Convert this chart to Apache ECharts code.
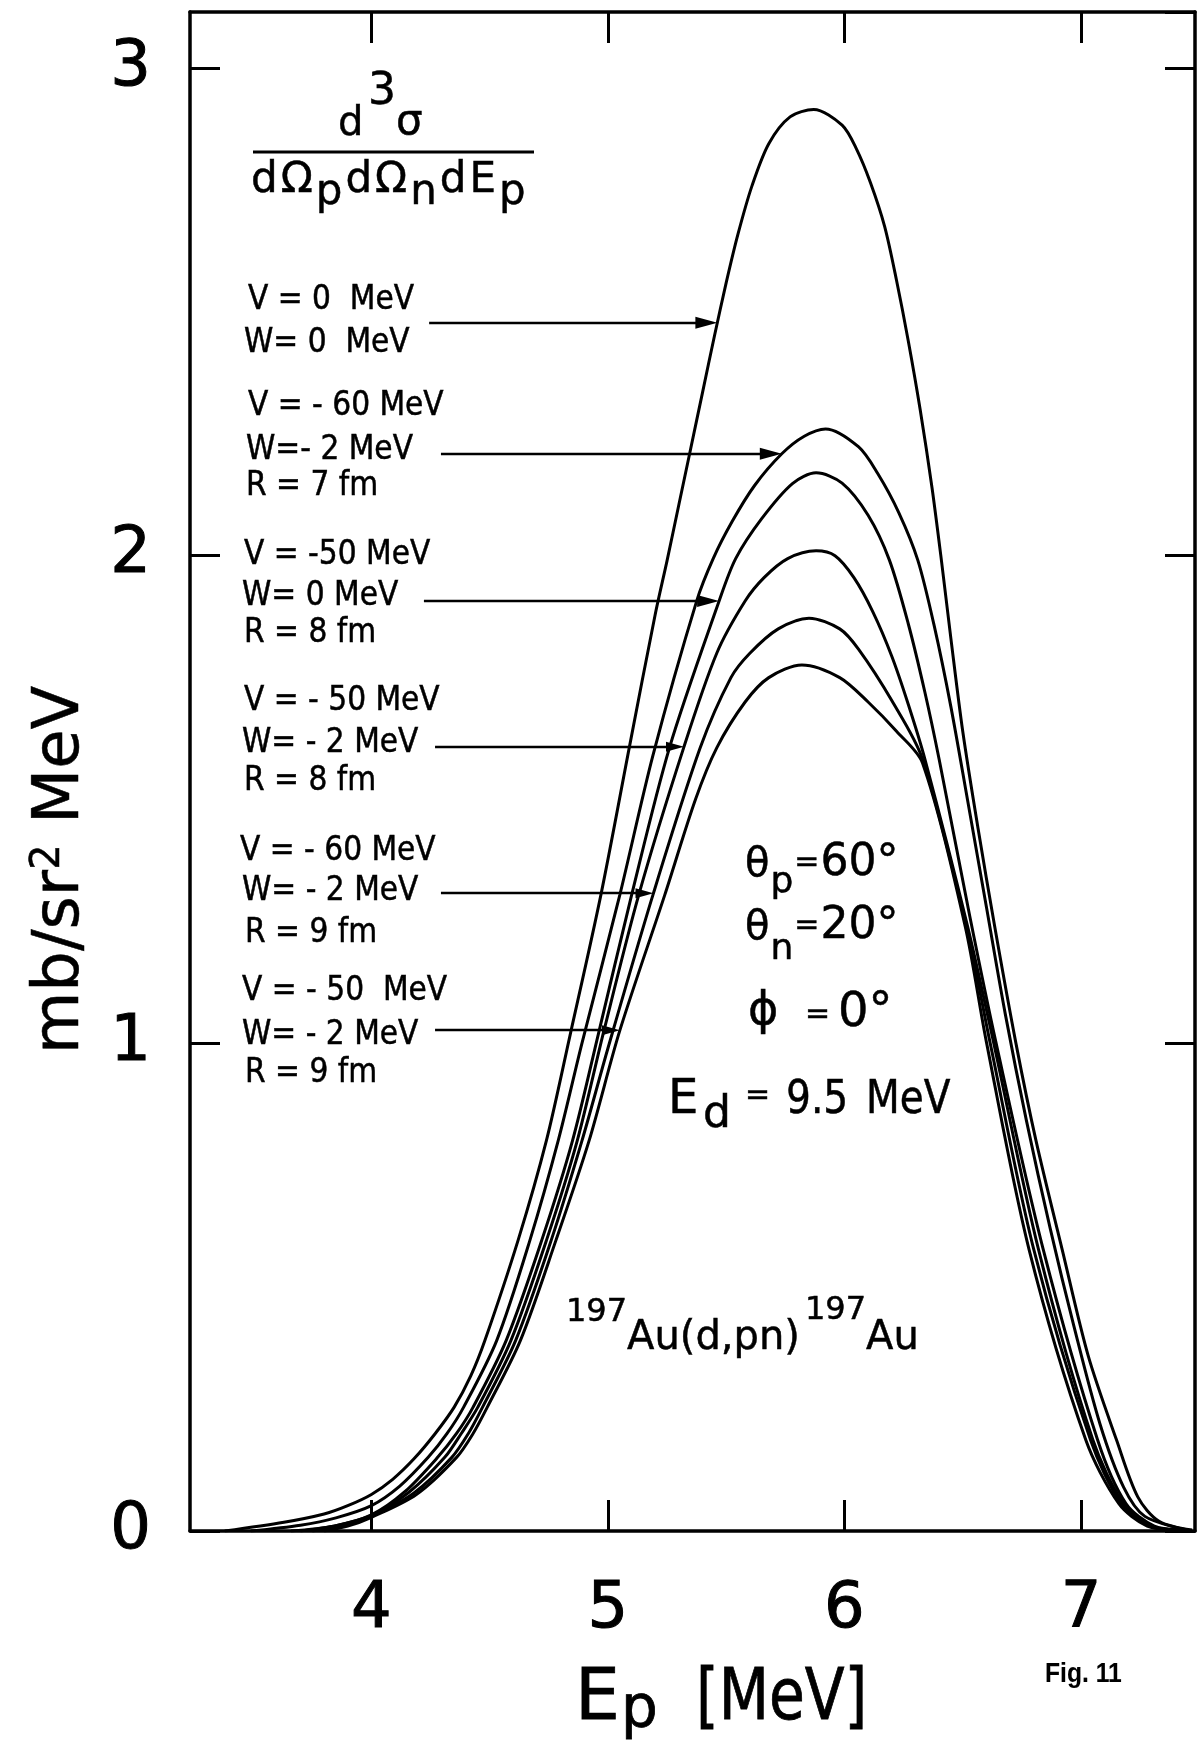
<!DOCTYPE html>
<html>
<head>
<meta charset="utf-8">
<title>197Au(d,pn)197Au triple differential cross section</title>
<script src="https://cdn.jsdelivr.net/npm/echarts@6/dist/echarts.min.js"></script>
<style>
  html, body { margin: 0; padding: 0; background: #fff; }
  #chart { width: 1202px; height: 1749px; }
</style>
</head>
<body>
<div id="chart"></div>
<script>
// Proton energy Ep (MeV) and d3sigma/(dOmega_p dOmega_n dEp) (mb/sr^2 MeV)
// for the six neutron optical-potential parameter sets.

// V = 0 MeV, W = 0 MeV
const epA = [3.38, 3.63, 3.80, 3.90, 4.00, 4.09, 4.18, 4.27, 4.35, 4.42, 4.48, 4.62, 4.74, 4.84, 4.97, 5.09, 5.20, 5.25, 5.30, 5.35, 5.40, 5.45, 5.50, 5.55, 5.61, 5.68, 5.77, 5.87,
             5.99, 6.05, 6.11, 6.17, 6.22, 6.27, 6.32, 6.37, 6.41, 6.45, 6.50, 6.565, 6.635, 6.725, 6.81, 6.92, 7.03, 7.15, 7.24, 7.33, 7.47];
const sgA = [0, 0.018, 0.035, 0.052, 0.075, 0.106, 0.148, 0.200, 0.254, 0.318, 0.391, 0.596, 0.801, 1.017, 1.304, 1.606, 1.880, 1.990, 2.105, 2.220, 2.335, 2.450, 2.560, 2.660, 2.760, 2.845, 2.900, 2.915,
             2.883, 2.835, 2.765, 2.675, 2.565, 2.440, 2.300, 2.140, 1.990, 1.830, 1.640, 1.440, 1.240, 1.000, 0.800, 0.578, 0.360, 0.187, 0.070, 0.020, 0.002];

// V = -60 MeV, W = -2 MeV, R = 7 fm
const epB = [3.49, 3.70, 3.85, 4.00, 4.12, 4.24, 4.32, 4.39, 4.53, 4.67, 4.79, 4.89, 5.05, 5.19, 5.375, 5.445, 5.525, 5.62, 5.735, 5.83, 5.92,
             6.06, 6.14, 6.23, 6.31, 6.38, 6.45, 6.52, 6.60, 6.68, 6.77, 6.87, 6.97, 7.08, 7.18, 7.27, 7.45];
const sgB = [0, 0.012, 0.027, 0.052, 0.092, 0.151, 0.200, 0.254, 0.391, 0.596, 0.801, 1.000, 1.304, 1.590, 1.907, 1.994, 2.070, 2.144, 2.209, 2.245, 2.260,
             2.223, 2.169, 2.088, 1.991, 1.855, 1.690, 1.500, 1.280, 1.060, 0.840, 0.620, 0.420, 0.220, 0.090, 0.030, 0.002];

// V = -50 MeV, W = 0 MeV, R = 8 fm
const epC = [3.66, 3.84, 4.00, 4.14, 4.28, 4.36, 4.43, 4.57, 4.72, 4.85, 4.96, 5.10, 5.26, 5.47, 5.54, 5.65, 5.78, 5.88,
             5.99, 6.10, 6.19, 6.27, 6.34, 6.40, 6.53, 6.64, 6.84, 7.07, 7.19, 7.31, 7.43];
const sgC = [0, 0.010, 0.033, 0.080, 0.151, 0.200, 0.254, 0.391, 0.596, 0.800, 1.020, 1.304, 1.606, 1.907, 1.994, 2.076, 2.148, 2.170,
             2.149, 2.083, 1.991, 1.860, 1.720, 1.583, 1.260, 1.003, 0.578, 0.187, 0.056, 0.010, 0.002];

// V = -50 MeV, W = -2 MeV, R = 8 fm
const epD = [3.70, 3.86, 4.00, 4.16, 4.31, 4.38, 4.45, 4.59, 4.74, 4.87, 4.98, 5.13, 5.32, 5.46, 5.58, 5.66, 5.76, 5.88,
             5.96, 6.04, 6.12, 6.20, 6.27, 6.34, 6.52, 6.63, 6.82, 7.05, 7.18, 7.30, 7.42];
const sgD = [0, 0.012, 0.032, 0.080, 0.151, 0.200, 0.254, 0.391, 0.596, 0.800, 1.020, 1.304, 1.606, 1.800, 1.907, 1.955, 1.994, 2.010,
             2.000, 1.955, 1.885, 1.794, 1.695, 1.583, 1.241, 1.003, 0.578, 0.187, 0.056, 0.010, 0.002];

// V = -60 MeV, W = -2 MeV, R = 9 fm
const epE = [3.75, 3.88, 4.00, 4.18, 4.34, 4.41, 4.47, 4.61, 4.76, 4.89, 5.00, 5.19, 5.39, 5.52, 5.60, 5.72, 5.85,
             5.98, 6.06, 6.20, 6.33, 6.515, 6.615, 6.80, 7.04, 7.17, 7.29, 7.42];
const sgE = [0, 0.010, 0.030, 0.078, 0.151, 0.200, 0.254, 0.391, 0.596, 0.800, 0.990, 1.304, 1.606, 1.750, 1.800, 1.850, 1.872,
             1.850, 1.808, 1.703, 1.583, 1.241, 1.003, 0.578, 0.187, 0.056, 0.010, 0.002];

// V = -50 MeV, W = -2 MeV, R = 9 fm
const epF = [3.80, 3.90, 4.00, 4.19, 4.36, 4.43, 4.49, 4.63, 4.78, 4.92, 5.05, 5.24, 5.37, 5.46, 5.58, 5.68, 5.82,
             5.98, 6.10, 6.22, 6.33, 6.51, 6.60, 6.78, 7.02, 7.16, 7.28, 7.40];
const sgF = [0, 0.010, 0.028, 0.075, 0.151, 0.200, 0.254, 0.391, 0.596, 0.800, 1.026, 1.304, 1.500, 1.606, 1.700, 1.750, 1.776,
             1.750, 1.700, 1.640, 1.575, 1.241, 1.003, 0.578, 0.187, 0.056, 0.010, 0.002];

// axis ticks
const xTicks = [4, 5, 6, 7];
const yTicks = [0, 1, 2, 3];

// labels of the parameter sets, one block per curve
const setLabels = [
  ['V = 0  MeV', 'W= 0  MeV'],
  ['V = - 60 MeV', 'W=- 2 MeV', 'R = 7 fm'],
  ['V = -50 MeV', 'W= 0 MeV', 'R = 8 fm'],
  ['V = - 50 MeV', 'W= - 2 MeV', 'R = 8 fm'],
  ['V = - 60 MeV', 'W= - 2 MeV', 'R = 9 fm'],
  ['V = - 50  MeV', 'W= - 2 MeV', 'R = 9 fm']
];
// height (cross section) at which each pointer meets its curve, and where it starts (Ep)
const pointerLevel = [2.478, 2.209, 1.907, 1.608, 1.308, 1.027];
const pointerFrom  = [4.244, 4.294, 4.222, 4.269, 4.294, 4.269];

const curves = [
  { ep: epA, sg: sgA }, { ep: epB, sg: sgB }, { ep: epC, sg: sgC },
  { ep: epD, sg: sgD }, { ep: epE, sg: sgE }, { ep: epF, sg: sgF }
];

// ---------- layout ----------
const FONT = "'DejaVu Sans'";
const G = { left: 190, top: 12, width: 1005, height: 1519 };
const X_MIN = 3.233, X_MAX = 7.482;
const Y_MIN = 0, Y_MAX = 3.115;
const pxPerE = G.width / (X_MAX - X_MIN);

// Ep on the rising flank of a curve where it reaches the given height
function risingHit(ep, sg, level) {
  for (let j = 1; j < sg.length; j++) {
    if (sg[j] >= level) {
      const t = (level - sg[j - 1]) / (sg[j] - sg[j - 1]);
      return ep[j - 1] + t * (ep[j] - ep[j - 1]);
    }
  }
  return ep[ep.length - 1];
}

const measureCtx = document.createElement('canvas').getContext('2d');
function textWidth(t, font) { measureCtx.font = font; return measureCtx.measureText(t).width; }

// a single text piece placed by its left edge and alphabetic baseline
function put(t, x, base, size, opts) {
  opts = opts || {};
  const family = opts.family || FONT;
  const font = (opts.weight || 'normal') + ' ' + size + 'px ' + family;
  return {
    type: 'text', x: x, y: base - 0.346 * size, scaleX: opts.sx || 1, silent: true, z: 10,
    style: { text: t, font: font, fill: '#000', align: 'left', verticalAlign: 'middle',
             stroke: '#000', lineWidth: opts.bold || 0.5 }
  };
}
// consecutive pieces; each part: [text, size, baselineShift, scaleX]; gap is added after every piece
function run(x, base, parts, gap) {
  const out = [];
  parts.forEach(p => {
    const size = p[1], dy = p[2] || 0, sx = p[3] || 1;
    out.push(put(p[0], x, base + dy, size, { sx: sx }));
    x += textWidth(p[0], 'normal ' + size + 'px ' + FONT) * sx + (gap || 0);
  });
  return out;
}

const graphics = [];

// d^3 sigma / (dOmega_p dOmega_n dE_p)
graphics.push(put('d', 338, 138, 40));
graphics.push(put('3', 368, 108, 44));
graphics.push(put('σ', 396, 138, 42));
graphics.push({ type: 'line', silent: true, z: 10,
  shape: { x1: 253, y1: 152, x2: 534, y2: 152 }, style: { stroke: '#000', lineWidth: 3 } });
graphics.push(...run(251, 196, [['d', 42], ['Ω', 42], ['p', 42, 12], ['d', 42], ['Ω', 42], ['n', 42, 12],
                                ['d', 42], ['E', 42], ['p', 42, 12]], 3));

// parameter-set blocks
const blockX = [[248, 244], [248, 246, 246], [244, 242, 244], [244, 242, 244], [240, 242, 245], [242, 242, 245]];
const blockBase = [[312, 355], [418, 462, 498], [567, 608, 645], [713, 755, 793], [863, 903, 945], [1003, 1047, 1085]];
setLabels.forEach((lines, i) => {
  lines.forEach((t, k) => graphics.push(put(t, blockX[i][k], blockBase[i][k], 33, { sx: 0.9 })));
});

// kinematics
graphics.push(...run(745, 879, [['θ', 40], ['p', 36, 16], ['=', 30, -5], ['60°', 44]], 1));
graphics.push(...run(745, 942, [['θ', 40], ['n', 36, 20], ['=', 30, -5], ['20°', 44]], 1));
graphics.push(put('ϕ', 748, 1028, 46));
graphics.push(put('=', 805, 1026, 30));
graphics.push(put('0°', 838, 1030, 48));
graphics.push(put('E', 668, 1117, 48));
graphics.push(put('d', 703, 1131, 44));
graphics.push(put('=', 745, 1107, 30));
graphics.push(put('9.5', 786, 1117, 46, { sx: 0.85 }));
graphics.push(put('MeV', 866, 1117, 46, { sx: 0.85 }));

// reaction
graphics.push(...run(566, 1352, [['197', 32, -28], ['Au(d,pn)', 40], [' ', 16], ['197', 32, -30], ['Au', 40]]));

// axis titles
graphics.push(put('E', 575, 1725, 71, { bold: 0.8 }));
graphics.push(put('p', 621, 1732, 58, { bold: 0.8 }));
graphics.push(put('[MeV]', 696, 1725, 71, { sx: 0.82, bold: 0.8 }));
graphics.push({
  type: 'group', x: 58, y: 1054, rotation: Math.PI / 2, silent: true,
  children: run(0, 26, [['mb/sr', 64], ['2', 40, -22], [' MeV', 64]])
});
graphics.push(put('Fig. 11', 1045, 1684, 28, { family: "'Liberation Sans'", weight: 'bold', sx: 0.88, bold: 0.1 }));

// ---------- chart ----------
const axisLine = { show: true, onZero: false, lineStyle: { color: '#000', width: 3.5 } };
const xTick = { show: true, inside: true, length: 31, customValues: xTicks, lineStyle: { color: '#000', width: 3 } };
const yTick = { show: true, inside: true, length: 30, lineStyle: { color: '#000', width: 3 } };
const tickLabel = { fontSize: 64, fontFamily: FONT, color: '#000', textBorderColor: '#000', textBorderWidth: 1 };

const series = curves.map((c, i) => {
  const hit = risingHit(c.ep, c.sg, pointerLevel[i]);
  const headLen = i < 3 ? 22 : 18;
  return {
    type: 'line',
    data: c.ep.map((e, j) => [e, c.sg[j]]),
    showSymbol: false, symbol: 'none',
    smooth: 0.3,
    lineStyle: { color: '#000', width: 3 },
    silent: true, animation: false, z: 3,
    markLine: {
      silent: true, animation: false,
      symbol: ['none', 'triangle'],
      symbolSize: [i < 3 ? 12 : 10, headLen],
      label: { show: false },
      emphasis: { disabled: true },
      lineStyle: { color: '#000', width: 2.4, type: 'solid' },
      data: [[
        { coord: [pointerFrom[i], pointerLevel[i]] },
        { coord: [hit - (headLen / 2) / pxPerE, pointerLevel[i]] }
      ]]
    }
  };
});

const chart = echarts.init(document.getElementById('chart'), null, { renderer: 'canvas' });
chart.setOption({
  backgroundColor: '#fff',
  animation: false,
  textStyle: { fontFamily: FONT, color: '#000' },
  grid: Object.assign({ outerBoundsMode: 'none', containLabel: false }, G),
  xAxis: [
    {
      type: 'value', position: 'bottom', min: X_MIN, max: X_MAX,
      axisLine: axisLine, axisTick: xTick, splitLine: { show: false },
      axisLabel: Object.assign({ show: true, customValues: xTicks, margin: 47,
                                 formatter: v => String(Math.round(v)) }, tickLabel)
    },
    {
      type: 'value', position: 'top', min: X_MIN, max: X_MAX,
      axisLine: axisLine, axisTick: xTick, splitLine: { show: false },
      axisLabel: { show: false }
    }
  ],
  yAxis: [
    {
      type: 'value', position: 'left', min: Y_MIN, max: Y_MAX, interval: 1,
      axisLine: axisLine, axisTick: yTick, splitLine: { show: false },
      axisLabel: Object.assign({ show: true, margin: 39, showMaxLabel: false,
                                 formatter: v => (yTicks.indexOf(v) >= 0 ? String(v) : '') }, tickLabel)
    },
    {
      type: 'value', position: 'right', min: Y_MIN, max: Y_MAX, interval: 1,
      axisLine: axisLine, axisTick: yTick, splitLine: { show: false },
      axisLabel: { show: false }
    }
  ],
  series: series,
  graphic: graphics
});
</script>
</body>
</html>
